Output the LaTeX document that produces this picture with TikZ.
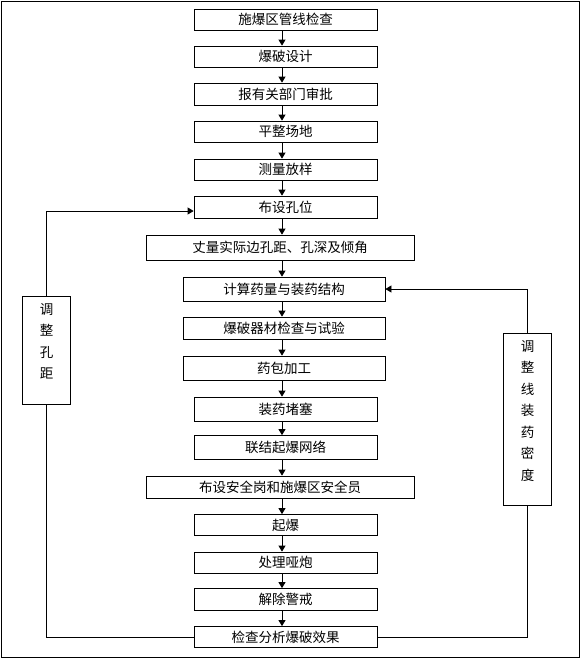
\documentclass[tikz,border=0pt]{standalone}
\usepackage{fontspec}
\newfontfamily\cjk{Noto Sans CJK SC}
\usetikzlibrary{arrows.meta}

\begin{document}
\begin{tikzpicture}[x=1pt, y=-1pt, line width=0.8pt,
    stepbox/.style={draw, inner sep=0pt, font=\cjk\fontsize{13.5}{16}\selectfont},
    sidebox/.style={draw, inner sep=0pt, minimum width=48pt},
    sidetext/.style={anchor=north, align=center, inner sep=0pt, font=\cjk\fontsize{13.5}{21.5}\selectfont},
    arr/.style={-{Triangle[length=6pt,width=7pt]}}]
    \useasboundingbox (0,0) rectangle (581,659);
    \draw (1,1) rectangle (579,657);
    % Below nodes are the steps, top to bottom.
        \node[stepbox, minimum width=183pt, minimum height=21pt] (n1) at (285.5,19.5) {施爆区管线检查};
        \node[stepbox, minimum width=183pt, minimum height=21pt] (n2) at (285.5,56.5) {爆破设计};
        \node[stepbox, minimum width=183pt, minimum height=22pt] (n3) at (285.5,94) {报有关部门审批};
        \node[stepbox, minimum width=183pt, minimum height=21pt] (n4) at (285.5,131.5) {平整场地};
        \node[stepbox, minimum width=183pt, minimum height=21pt] (n5) at (285.5,169.5) {测量放样};
        \node[stepbox, minimum width=183pt, minimum height=22pt] (n6) at (285.5,207) {布设孔位};
        \node[stepbox, minimum width=268pt, minimum height=25pt] (n7) at (280,247.5) {丈量实际边孔距、孔深及倾角};
        \node[stepbox, minimum width=202pt, minimum height=24pt] (n8) at (284,289) {计算药量与装药结构};
        \node[stepbox, minimum width=202pt, minimum height=22pt] (n9) at (284,328) {爆破器材检查与试验};
        \node[stepbox, minimum width=202pt, minimum height=24pt] (n10) at (284,368) {药包加工};
        \node[stepbox, minimum width=183pt, minimum height=24pt] (n11) at (285.5,409) {装药堵塞};
        \node[stepbox, minimum width=183pt, minimum height=24pt] (n12) at (285.5,447.5) {联结起爆网络};
        \node[stepbox, minimum width=268pt, minimum height=22pt] (n13) at (280,487) {布设安全岗和施爆区安全员};
        \node[stepbox, minimum width=183pt, minimum height=21pt] (n14) at (285.5,525) {起爆};
        \node[stepbox, minimum width=183pt, minimum height=21pt] (n15) at (285.5,562.5) {处理哑炮};
        \node[stepbox, minimum width=183pt, minimum height=22pt] (n16) at (285.5,599.5) {解除警戒};
        \node[stepbox, minimum width=183pt, minimum height=21pt] (n17) at (285.5,637) {检查分析爆破效果};
    % The two feedback boxes.
        \node[sidebox, minimum height=108pt] (adjL) at (46.5,350) {};
        \node[sidetext] (adjLtext) at ([yshift=-7pt]adjL.north) {调\\整\\孔\\距};
        \node[sidebox, minimum height=172pt] (adjR) at (527.5,419) {};
        \node[sidetext] (adjRtext) at ([yshift=-7pt]adjR.north) {调\\整\\线\\装\\药\\密\\度};
    % This draws the main chain of arrows.
        \coordinate (spine) at (282,0);
        \foreach \a/\b in {n1/n2, n2/n3, n3/n4, n4/n5, n5/n6, n6/n7, n7/n8, n8/n9,
                           n9/n10, n10/n11, n11/n12, n12/n13, n13/n14, n14/n15,
                           n15/n16, n16/n17}
            \draw[arr] (\a.south -| spine) -- (\b.north -| spine);
    % Feedback lines.
        \draw[arr] (adjL.north) |- ([yshift=-4pt]n6.west);
        \draw (adjL.south) |- (n17.west);
        \draw[arr] (adjR.north) |- (n8.east);
        \draw (adjR.south) |- (n17.east);
\end{tikzpicture}
\end{document}
